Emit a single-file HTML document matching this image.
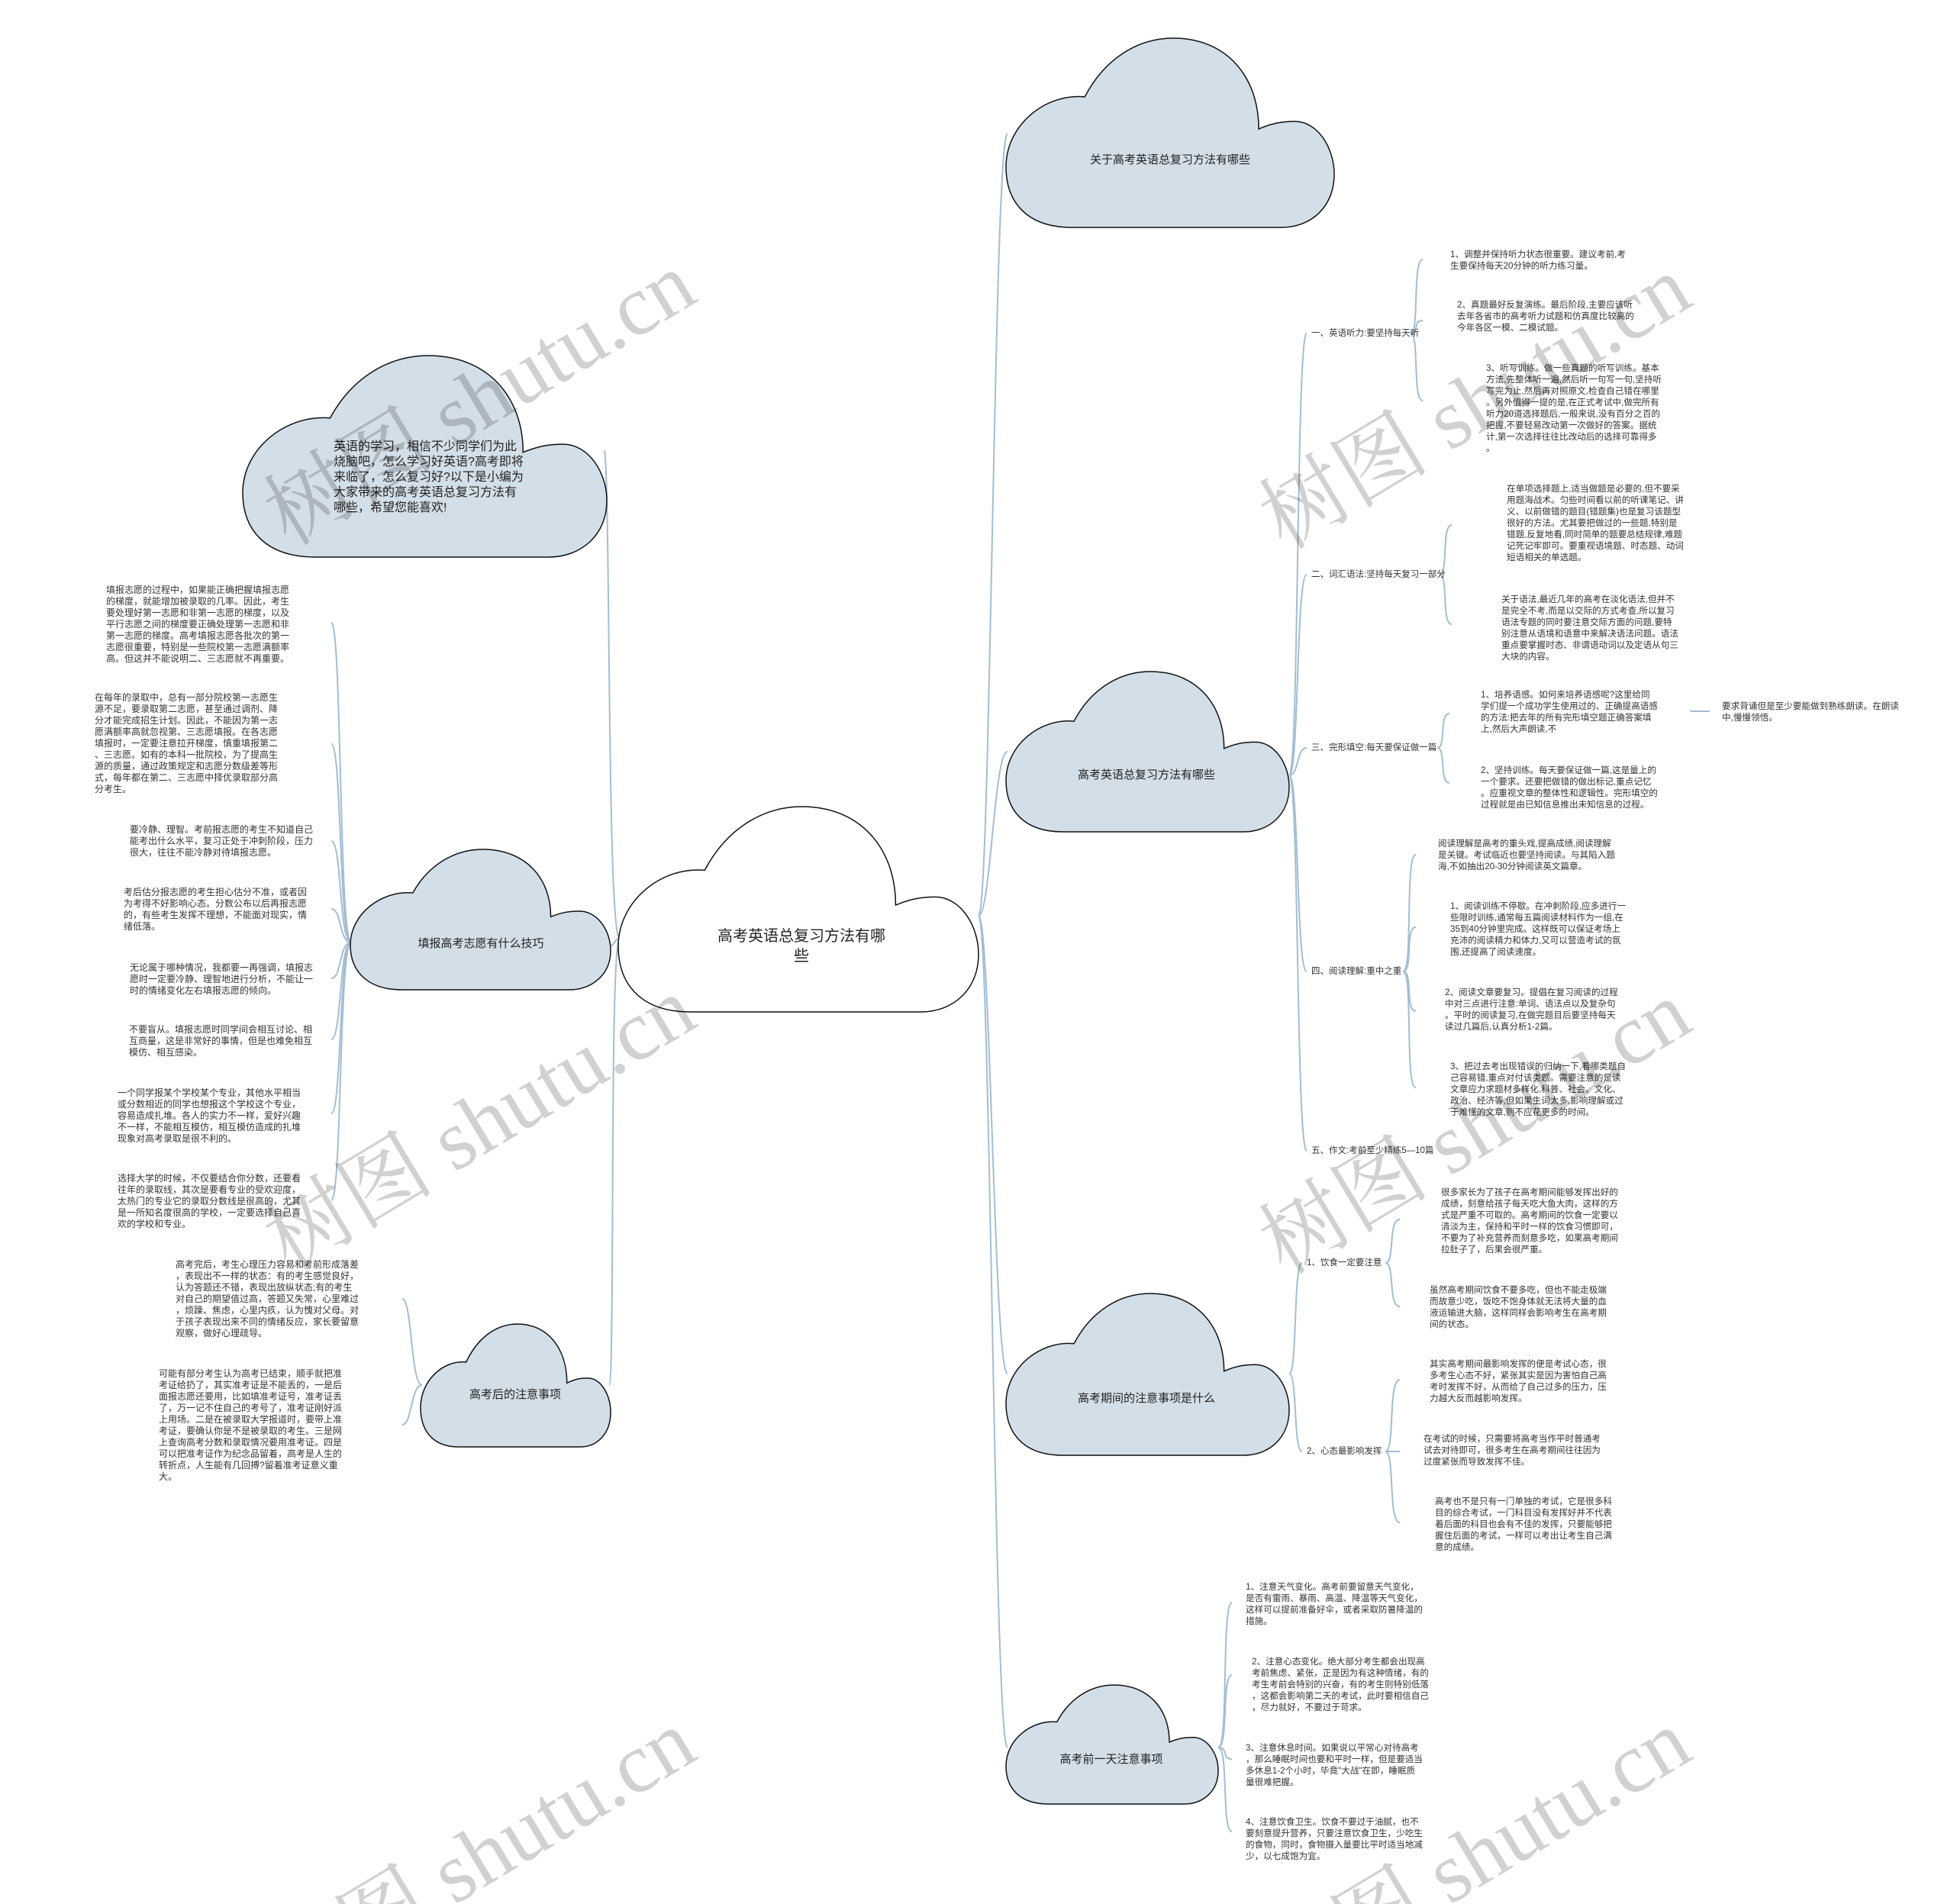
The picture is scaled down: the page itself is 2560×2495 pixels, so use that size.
<!DOCTYPE html>
<html><head><meta charset="utf-8"><style>
html,body{margin:0;padding:0;background:#fff;width:2560px;height:2495px;overflow:hidden}
#pg{position:relative;width:2560px;height:2495px;overflow:hidden;font-family:"Liberation Sans","Noto Sans CJK SC",sans-serif;color:#333}
.t{position:absolute;white-space:nowrap;font-size:11.6px;line-height:15px}
.l{position:absolute;white-space:nowrap;font-size:12px;line-height:15px}
.lab{position:absolute;white-space:nowrap;font-size:11.5px;line-height:14px}
.cl{position:absolute;overflow:visible}
.ct{position:absolute;white-space:nowrap;font-size:15px;line-height:18px;color:#222;transform:translate(-50%,-50%);text-align:center}
</style></head><body><div id="pg">
<svg width="2560" height="2495" style="position:absolute;left:0;top:0" fill="none" stroke="#a3bdd3" stroke-width="2">
<path d="M812 1230 C795 1230 800 640 792 590"/>
<path d="M812 1230 C805 1230 805 1240 798 1240"/>
<path d="M812 1230 C798 1230 806 1815 798 1815"/>
<path d="M1282 1200 C1298 1200 1302 175 1320 175"/>
<path d="M1282 1200 C1298 1200 1302 985 1320 985"/>
<path d="M1282 1200 C1298 1200 1302 1800 1320 1800"/>
<path d="M1282 1200 C1298 1200 1302 2290 1320 2290"/>
<path d="M1689 1016 C1702 1016 1698 437 1712 437"/>
<path d="M1689 1016 C1702 1016 1698 753 1712 753"/>
<path d="M1689 1016 C1702 1016 1698 980 1712 980"/>
<path d="M1689 1016 C1702 1016 1698 1273 1712 1273"/>
<path d="M1689 1016 C1702 1016 1698 1508 1712 1508"/>
<path d="M1848 437 C1860 437 1850 340 1864 340"/>
<path d="M1848 437 C1860 437 1850 420 1864 420"/>
<path d="M1848 437 C1860 437 1850 525 1864 525"/>
<path d="M1886 753 C1898 753 1888 688 1902 688"/>
<path d="M1886 753 C1898 753 1888 818 1902 818"/>
<path d="M1883 980 C1895 980 1885 935 1899 935"/>
<path d="M1883 980 C1895 980 1885 1026 1899 1026"/>
<path d="M2214 932 L2240 932"/>
<path d="M1838 1273 C1852 1273 1840 1120 1855 1120"/>
<path d="M1838 1273 C1852 1273 1840 1215 1855 1215"/>
<path d="M1838 1273 C1852 1273 1840 1325 1855 1325"/>
<path d="M1838 1273 C1852 1273 1840 1425 1855 1425"/>
<path d="M1689 1800 C1700 1800 1694 1655 1706 1655"/>
<path d="M1689 1800 C1700 1800 1694 1902 1706 1902"/>
<path d="M1815 1655 C1828 1655 1818 1598 1834 1598"/>
<path d="M1815 1655 C1828 1655 1818 1712 1834 1712"/>
<path d="M1815 1902 C1828 1902 1818 1808 1834 1808"/>
<path d="M1815 1902 C1828 1902 1818 1902 1834 1902"/>
<path d="M1815 1902 C1828 1902 1818 1995 1834 1995"/>
<path d="M1596 2290 C1610 2290 1600 2100 1614 2100"/>
<path d="M1596 2290 C1610 2290 1600 2195 1614 2195"/>
<path d="M1596 2290 C1610 2290 1600 2305 1614 2305"/>
<path d="M1596 2290 C1610 2290 1600 2400 1614 2400"/>
<path d="M460 1235 C444 1235 448 816 434 816"/>
<path d="M460 1235 C444 1235 448 975 434 975"/>
<path d="M460 1235 C444 1235 448 1102 434 1102"/>
<path d="M460 1235 C444 1235 448 1191 434 1191"/>
<path d="M460 1235 C444 1235 448 1282 434 1282"/>
<path d="M460 1235 C444 1235 448 1362 434 1362"/>
<path d="M460 1235 C444 1235 448 1459 434 1459"/>
<path d="M460 1235 C444 1235 448 1573 434 1573"/>
<path d="M553 1815 C538 1815 540 1702 527 1702"/>
<path d="M553 1815 C538 1815 540 1867 527 1867"/>
</svg>

<svg class="cl" style="left:810px;top:1057px" width="472" height="269" viewBox="0 0 100 100" preserveAspectRatio="none"><path vector-effect="non-scaling-stroke" d="M20,100 C6,100 0,86 0,68 C0,46 12,29 24,31 C30,11 40,0 51,0 C67,0 77,20 77,48 C81,45 84,44 88,44 C95,44 100,58 100,72 C100,89 93,100 84,100 Z" fill="#fff" stroke="#111" stroke-width="1.5"/></svg>
<svg class="cl" style="left:318px;top:466px" width="477" height="264" viewBox="0 0 100 100" preserveAspectRatio="none"><path vector-effect="non-scaling-stroke" d="M20,100 C6,100 0,86 0,68 C0,46 12,29 24,31 C30,11 40,0 51,0 C67,0 77,20 77,48 C81,45 84,44 88,44 C95,44 100,58 100,72 C100,89 93,100 84,100 Z" fill="#d3dfe8" stroke="#111" stroke-width="1.5"/></svg>
<svg class="cl" style="left:459px;top:1113px" width="341" height="184" viewBox="0 0 100 100" preserveAspectRatio="none"><path vector-effect="non-scaling-stroke" d="M20,100 C6,100 0,86 0,68 C0,46 12,29 24,31 C30,11 40,0 51,0 C67,0 77,20 77,48 C81,45 84,44 88,44 C95,44 100,58 100,72 C100,89 93,100 84,100 Z" fill="#d3dfe8" stroke="#111" stroke-width="1.5"/></svg>
<svg class="cl" style="left:551px;top:1735px" width="249" height="161" viewBox="0 0 100 100" preserveAspectRatio="none"><path vector-effect="non-scaling-stroke" d="M20,100 C6,100 0,86 0,68 C0,46 12,29 24,31 C30,11 40,0 51,0 C67,0 77,20 77,48 C81,45 84,44 88,44 C95,44 100,58 100,72 C100,89 93,100 84,100 Z" fill="#d3dfe8" stroke="#111" stroke-width="1.5"/></svg>
<svg class="cl" style="left:1318px;top:50px" width="430" height="248" viewBox="0 0 100 100" preserveAspectRatio="none"><path vector-effect="non-scaling-stroke" d="M20,100 C6,100 0,86 0,68 C0,46 12,29 24,31 C30,11 40,0 51,0 C67,0 77,20 77,48 C81,45 84,44 88,44 C95,44 100,58 100,72 C100,89 93,100 84,100 Z" fill="#d3dfe8" stroke="#111" stroke-width="1.5"/></svg>
<svg class="cl" style="left:1318px;top:880px" width="371" height="210" viewBox="0 0 100 100" preserveAspectRatio="none"><path vector-effect="non-scaling-stroke" d="M20,100 C6,100 0,86 0,68 C0,46 12,29 24,31 C30,11 40,0 51,0 C67,0 77,20 77,48 C81,45 84,44 88,44 C95,44 100,58 100,72 C100,89 93,100 84,100 Z" fill="#d3dfe8" stroke="#111" stroke-width="1.5"/></svg>
<svg class="cl" style="left:1318px;top:1695px" width="371" height="212" viewBox="0 0 100 100" preserveAspectRatio="none"><path vector-effect="non-scaling-stroke" d="M20,100 C6,100 0,86 0,68 C0,46 12,29 24,31 C30,11 40,0 51,0 C67,0 77,20 77,48 C81,45 84,44 88,44 C95,44 100,58 100,72 C100,89 93,100 84,100 Z" fill="#d3dfe8" stroke="#111" stroke-width="1.5"/></svg>
<svg class="cl" style="left:1318px;top:2208px" width="278" height="156" viewBox="0 0 100 100" preserveAspectRatio="none"><path vector-effect="non-scaling-stroke" d="M20,100 C6,100 0,86 0,68 C0,46 12,29 24,31 C30,11 40,0 51,0 C67,0 77,20 77,48 C81,45 84,44 88,44 C95,44 100,58 100,72 C100,89 93,100 84,100 Z" fill="#d3dfe8" stroke="#111" stroke-width="1.5"/></svg>

<div class="ct" style="left:1050px;top:1240px;font-size:20px;line-height:26px">高考英语总复习方法有哪<br>些</div>
<div style="position:absolute;left:437px;top:576px;font-size:16px;line-height:20px;white-space:nowrap;color:#222">英语的学习，相信不少同学们为此<br>烧脑吧，怎么学习好英语?高考即将<br>来临了，怎么复习好?以下是小编为<br>大家带来的高考英语总复习方法有<br>哪些，希望您能喜欢!</div>
<div class="ct" style="left:630px;top:1237px">填报高考志愿有什么技巧</div>
<div class="ct" style="left:675px;top:1828px">高考后的注意事项</div>
<div class="ct" style="left:1533px;top:210px">关于高考英语总复习方法有哪些</div>
<div class="ct" style="left:1502px;top:1016px">高考英语总复习方法有哪些</div>
<div class="ct" style="left:1502px;top:1833px">高考期间的注意事项是什么</div>
<div class="ct" style="left:1456px;top:2306px">高考前一天注意事项</div>

<div class="l" style="left:139px;top:766px">填报志愿的过程中，如果能正确把握填报志愿<br>的梯度，就能增加被录取的几率。因此，考生<br>要处理好第一志愿和非第一志愿的梯度，以及<br>平行志愿之间的梯度要正确处理第一志愿和非<br>第一志愿的梯度。高考填报志愿各批次的第一<br>志愿很重要，特别是一些院校第一志愿满额率<br>高。但这并不能说明二、三志愿就不再重要。</div>
<div class="l" style="left:124px;top:907px">在每年的录取中，总有一部分院校第一志愿生<br>源不足，要录取第二志愿，甚至通过调剂、降<br>分才能完成招生计划。因此，不能因为第一志<br>愿满额率高就忽视第、三志愿填报。在各志愿<br>填报时，一定要注意拉开梯度，慎重填报第二<br>、三志愿。如有的本科一批院校，为了提高生<br>源的质量，通过政策规定和志愿分数级差等形<br>式，每年都在第二、三志愿中择优录取部分高<br>分考生。</div>
<div class="l" style="left:170px;top:1080px">要冷静、理智。考前报志愿的考生不知道自己<br>能考出什么水平，复习正处于冲刺阶段，压力<br>很大，往往不能冷静对待填报志愿。</div>
<div class="l" style="left:162px;top:1162px">考后估分报志愿的考生担心估分不准，或者因<br>为考得不好影响心态。分数公布以后再报志愿<br>的，有些考生发挥不理想，不能面对现实，情<br>绪低落。</div>
<div class="l" style="left:170px;top:1261px">无论属于哪种情况，我都要一再强调，填报志<br>愿时一定要冷静、理智地进行分析，不能让一<br>时的情绪变化左右填报志愿的倾向。</div>
<div class="l" style="left:169px;top:1342px">不要盲从。填报志愿时同学间会相互讨论、相<br>互商量，这是非常好的事情，但是也难免相互<br>模仿、相互感染。</div>
<div class="l" style="left:154px;top:1425px">一个同学报某个学校某个专业，其他水平相当<br>或分数相近的同学也想报这个学校这个专业，<br>容易造成扎堆。各人的实力不一样，爱好兴趣<br>不一样，不能相互模仿，相互模仿造成的扎堆<br>现象对高考录取是很不利的。</div>
<div class="l" style="left:154px;top:1537px">选择大学的时候，不仅要结合你分数，还要看<br>往年的录取线，其次是要看专业的受欢迎度，<br>太热门的专业它的录取分数线是很高的，尤其<br>是一所知名度很高的学校，一定要选择自己喜<br>欢的学校和专业。</div>
<div class="l" style="left:230px;top:1650px">高考完后，考生心理压力容易和考前形成落差<br>，表现出不一样的状态：有的考生感觉良好，<br>认为答题还不错，表现出放纵状态;有的考生<br>对自己的期望值过高，答题又失常，心里难过<br>，烦躁、焦虑，心里内疚，认为愧对父母。对<br>于孩子表现出来不同的情绪反应，家长要留意<br>观察，做好心理疏导。</div>
<div class="l" style="left:208px;top:1793px">可能有部分考生认为高考已结束，顺手就把准<br>考证给扔了，其实准考证是不能丢的，一是后<br>面报志愿还要用，比如填准考证号，准考证丢<br>了，万一记不住自己的考号了，准考证刚好派<br>上用场。二是在被录取大学报道时，要带上准<br>考证，要确认你是不是被录取的考生。三是网<br>上查询高考分数和录取情况要用准考证。四是<br>可以把准考证作为纪念品留着，高考是人生的<br>转折点，人生能有几回搏?留着准考证意义重<br>大。</div>

<div class="lab" style="left:1718px;top:430px">一、英语听力:要坚持每天听</div>
<div class="lab" style="left:1718px;top:746px">二、词汇语法:坚持每天复习一部分</div>
<div class="lab" style="left:1718px;top:973px">三、完形填空:每天要保证做一篇</div>
<div class="lab" style="left:1718px;top:1266px">四、阅读理解:重中之重</div>
<div class="lab" style="left:1718px;top:1501px">五、作文:考前至少精练5—10篇</div>
<div class="lab" style="left:1712px;top:1648px">1、饮食一定要注意</div>
<div class="lab" style="left:1712px;top:1895px">2、心态最影响发挥</div>

<div class="t" style="left:1900px;top:326px">1、调整并保持听力状态很重要。建议考前,考<br>生要保持每天20分钟的听力练习量。</div>
<div class="t" style="left:1909px;top:392px">2、真题最好反复演练。最后阶段,主要应该听<br>去年各省市的高考听力试题和仿真度比较高的<br>今年各区一模、二模试题。</div>
<div class="t" style="left:1947px;top:475px">3、听写训练。做一些真题的听写训练。基本<br>方法,先整体听一遍,然后听一句写一句,坚持听<br>写完为止,然后再对照原文,检查自己错在哪里<br>。另外值得一提的是,在正式考试中,做完所有<br>听力20道选择题后,一般来说,没有百分之百的<br>把握,不要轻易改动第一次做好的答案。据统<br>计,第一次选择往往比改动后的选择可靠得多<br>。</div>
<div class="t" style="left:1974px;top:633px">在单项选择题上,适当做题是必要的,但不要采<br>用题海战术。匀些时间看以前的听课笔记、讲<br>义、以前做错的题目(错题集)也是复习该题型<br>很好的方法。尤其要把做过的一些题,特别是<br>错题,反复地看,同时简单的题要总结规律,难题<br>记死记牢即可。要重视语境题、时态题、动词<br>短语相关的单选题。</div>
<div class="t" style="left:1967px;top:778px">关于语法,最近几年的高考在淡化语法,但并不<br>是完全不考,而是以交际的方式考查,所以复习<br>语法专题的同时要注意交际方面的问题,要特<br>别注意从语境和语意中来解决语法问题。语法<br>重点要掌握时态、非谓语动词以及定语从句三<br>大块的内容。</div>
<div class="t" style="left:1940px;top:903px">1、培养语感。如何来培养语感呢?这里给同<br>学们提一个成功学生使用过的、正确提高语感<br>的方法:把去年的所有完形填空题正确答案填<br>上,然后大声朗读,不</div>
<div class="t" style="left:2256px;top:918px">要求背诵但是至少要能做到熟练朗读。在朗读<br>中,慢慢领悟。</div>
<div class="t" style="left:1940px;top:1002px">2、坚持训练。每天要保证做一篇,这是量上的<br>一个要求。还要把做错的做出标记,重点记忆<br>。应重视文章的整体性和逻辑性。完形填空的<br>过程就是由已知信息推出未知信息的过程。</div>
<div class="t" style="left:1884px;top:1098px">阅读理解是高考的重头戏,提高成绩,阅读理解<br>是关键。考试临近也要坚持阅读。与其陷入题<br>海,不如抽出20-30分钟阅读英文篇章。</div>
<div class="t" style="left:1900px;top:1180px">1、阅读训练不停歇。在冲刺阶段,应多进行一<br>些限时训练,通常每五篇阅读材料作为一组,在<br>35到40分钟里完成。这样既可以保证考场上<br>充沛的阅读精力和体力,又可以营造考试的氛<br>围,还提高了阅读速度。</div>
<div class="t" style="left:1893px;top:1293px">2、阅读文章要复习。提倡在复习阅读的过程<br>中对三点进行注意:单词、语法点以及复杂句<br>。平时的阅读复习,在做完题目后要坚持每天<br>读过几篇后,认真分析1-2篇。</div>
<div class="t" style="left:1900px;top:1390px">3、把过去考出现错误的归纳一下,看哪类题自<br>己容易错,重点对付该类题。需要注意的是读<br>文章应力求题材多样化,科普、社会、文化、<br>政治、经济等,但如果生词太多,影响理解或过<br>于难懂的文章,则不应花更多的时间。</div>
<div class="t" style="left:1888px;top:1555px">很多家长为了孩子在高考期间能够发挥出好的<br>成绩，刻意给孩子每天吃大鱼大肉，这样的方<br>式是严重不可取的。高考期间的饮食一定要以<br>清淡为主，保持和平时一样的饮食习惯即可，<br>不要为了补充营养而刻意多吃，如果高考期间<br>拉肚子了，后果会很严重。</div>
<div class="t" style="left:1873px;top:1683px">虽然高考期间饮食不要多吃，但也不能走极端<br>而故意少吃，饭吃不饱身体就无法将大量的血<br>液运输进大脑，这样同样会影响考生在高考期<br>间的状态。</div>
<div class="t" style="left:1873px;top:1780px">其实高考期间最影响发挥的便是考试心态，很<br>多考生心态不好，紧张其实是因为害怕自己高<br>考时发挥不好，从而给了自己过多的压力，压<br>力越大反而越影响发挥。</div>
<div class="t" style="left:1865px;top:1878px">在考试的时候，只需要将高考当作平时普通考<br>试去对待即可，很多考生在高考期间往往因为<br>过度紧张而导致发挥不佳。</div>
<div class="t" style="left:1880px;top:1960px">高考也不是只有一门单独的考试，它是很多科<br>目的综合考试，一门科目没有发挥好并不代表<br>着后面的科目也会有不佳的发挥，只要能够把<br>握住后面的考试，一样可以考出让考生自己满<br>意的成绩。</div>
<div class="t" style="left:1632px;top:2072px">1、注意天气变化。高考前要留意天气变化，<br>是否有雷雨、暴雨、高温、降温等天气变化，<br>这样可以提前准备好伞，或者采取防暑降温的<br>措施。</div>
<div class="t" style="left:1640px;top:2170px">2、注意心态变化。绝大部分考生都会出现高<br>考前焦虑、紧张，正是因为有这种情绪，有的<br>考生考前会特别的兴奋，有的考生则特别低落<br>，这都会影响第二天的考试，此时要相信自己<br>，尽力就好，不要过于苛求。</div>
<div class="t" style="left:1632px;top:2283px">3、注意休息时间。如果说以平常心对待高考<br>，那么睡眠时间也要和平时一样，但是要适当<br>多休息1-2个小时，毕竟"大战"在即，睡眠质<br>量很难把握。</div>
<div class="t" style="left:1632px;top:2380px">4、注意饮食卫生。饮食不要过于油腻，也不<br>要刻意提升营养，只要注意饮食卫生，少吃生<br>的食物，同时，食物摄入量要比平时适当地减<br>少，以七成饱为宜。</div>

<svg width="2560" height="2495" style="position:absolute;left:0;top:0;pointer-events:none;overflow:hidden">
<g fill="#000" fill-opacity="0.18" font-family="'Liberation Serif','Noto Serif CJK SC',serif" font-size="112" text-anchor="middle">
<text transform="translate(648,555) rotate(-31)">树图 shutu.cn</text>
<text transform="translate(1952,560) rotate(-31)">树图 shutu.cn</text>
<text transform="translate(648,1505) rotate(-31)">树图 shutu.cn</text>
<text transform="translate(1952,1510) rotate(-31)">树图 shutu.cn</text>
<text transform="translate(648,2465) rotate(-31)">树图 shutu.cn</text>
<text transform="translate(1952,2465) rotate(-31)">树图 shutu.cn</text>
</g></svg>
</div></body></html>
